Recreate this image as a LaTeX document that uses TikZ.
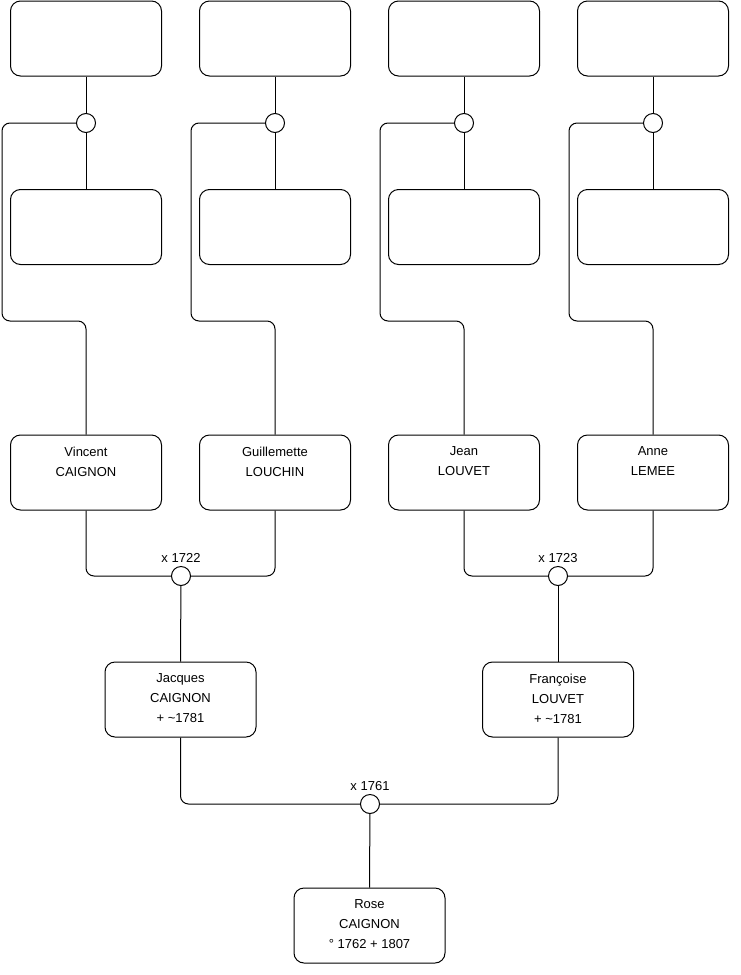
\documentclass[tikz,border=0pt]{standalone}
\usepackage{fontspec}
\setmainfont{Liberation Sans}
\begin{document}
\begin{tikzpicture}[x=1pt,y=-1pt,line width=1pt,font=\fontsize{13}{20}\selectfont,
  person/.style={draw,rounded corners=10pt,minimum width=151pt,minimum height=75pt,align=center,text depth=2pt},
  union/.style={draw,circle,fill=white,minimum size=19pt,inner sep=0pt},
  link/.style={rounded corners=8pt}]
\useasboundingbox (0,0) rectangle (740,975);
% grand-parents (unknown)
\foreach \n/\x in {vincent/86,guillemette/275,jean/464,anne/653}{
  \node[person] (\n F) at (\x,38.5) {};
  \node[person] (\n M) at (\x,227) {};
  \node[union] (\n U) at (\x,123) {};
  \coordinate (\n K) at (\x-84,321);
  \draw (\n F.south) -- (\n U) -- (\n M.north);
}
\node[person] (vincent) at (86,472.5) {Vincent\\CAIGNON\\\mbox{}};
\node[person] (guillemette) at (275,472.5) {Guillemette\\LOUCHIN\\\mbox{}};
\node[person] (jean) at (464,472.5) {Jean\\LOUVET\\\mbox{}};
\node[person] (anne) at (653,472.5) {Anne\\LEMEE\\\mbox{}};
\foreach \n in {vincent,guillemette,jean,anne}
  \draw[link] (\n U.west) -| (\n K) -| (\n.north);
% parents
\node[union,label=above:x 1722] (m1722) at (181,576) {};
\node[union,label=above:x 1723] (m1723) at (558,576) {};
\draw[link] (vincent.south) |- (m1722.west);
\draw[link] (guillemette.south) |- (m1722.east);
\draw[link] (jean.south) |- (m1723.west);
\draw[link] (anne.south) |- (m1723.east);
\node[person] (jacques) at (180.5,699.5) {Jacques\\CAIGNON\\+ \textasciitilde1781};
\node[person] (francoise) at (558,699.5) {Françoise\\LOUVET\\+ \textasciitilde1781};
\draw (m1722) -- (jacques.north);
\draw (m1723) -- (francoise.north);
% Rose
\node[union,label=above:x 1761] (m1761) at (370,804) {};
\draw[link] (jacques.south) |- (m1761.west);
\draw[link] (francoise.south) |- (m1761.east);
\node[person] (rose) at (369.5,925.5) {Rose\\CAIGNON\\° 1762 + 1807};
\draw (m1761) -- (rose.north);
\end{tikzpicture}
\end{document}
